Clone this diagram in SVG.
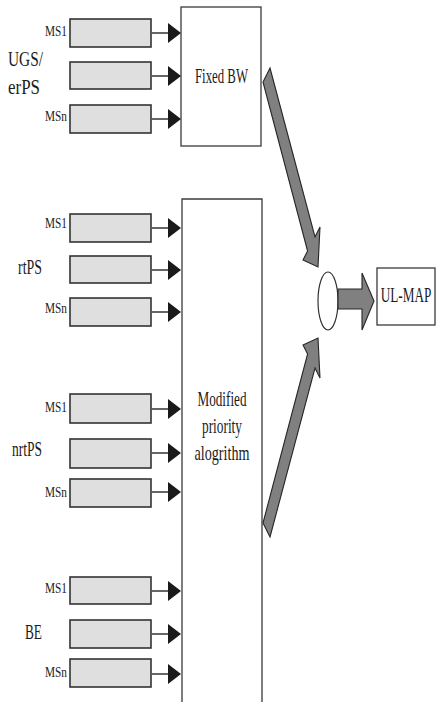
<svg xmlns="http://www.w3.org/2000/svg" width="437" height="702" viewBox="0 0 437 702">
<style>
.q{fill:#dfdfdf;stroke:#333;stroke-width:1.6}
.box{fill:#fff;stroke:#3a3a3a;stroke-width:1.3}
.t{font-family:"Liberation Serif","Times New Roman",serif;fill:#1c1c1c}
.ms{font-size:15px;text-anchor:end}
.cls{font-size:21px}
.big{font-size:22px;text-anchor:middle}
.ln{stroke:#555;stroke-width:1.8}
.ah{fill:#1a1a1a}
.fat{fill:#808080;stroke:#262626;stroke-width:1.1;stroke-linejoin:miter}
</style>
<defs>
<g id="sa"><line class="ln" x1="151" y1="0" x2="169" y2="0"/><polygon class="ah" points="168,-10 181,0 168,10"/></g>
</defs>

<!-- class labels -->
<g id="labels">
<text class="t cls" x="8" y="66" textLength="35" lengthAdjust="spacingAndGlyphs">UGS/</text>
<text class="t cls" x="8" y="94" textLength="32" lengthAdjust="spacingAndGlyphs">erPS</text>
<text class="t cls" x="18" y="274" textLength="24" lengthAdjust="spacingAndGlyphs">rtPS</text>
<text class="t cls" x="12" y="456" textLength="30" lengthAdjust="spacingAndGlyphs">nrtPS</text>
<text class="t cls" x="25" y="639" textLength="17" lengthAdjust="spacingAndGlyphs">BE</text>
</g>

<!-- UGS/erPS queues -->
<g id="q-ugs-1"><rect class="q" x="70" y="19" width="81" height="28"/><text class="t ms" x="67" y="36" textLength="22" lengthAdjust="spacingAndGlyphs">MS1</text></g>
<g id="q-ugs-2"><rect class="q" x="70" y="62" width="81" height="27"/></g>
<g id="q-ugs-n"><rect class="q" x="70" y="105" width="81" height="28"/><text class="t ms" x="67" y="121" textLength="22" lengthAdjust="spacingAndGlyphs">MSn</text></g>

<!-- rtPS queues -->
<g id="q-rt-1"><rect class="q" x="70" y="214" width="81" height="28"/><text class="t ms" x="67" y="228" textLength="22" lengthAdjust="spacingAndGlyphs">MS1</text></g>
<g id="q-rt-2"><rect class="q" x="70" y="256" width="81" height="27"/></g>
<g id="q-rt-n"><rect class="q" x="70" y="298" width="81" height="28"/><text class="t ms" x="67" y="313" textLength="22" lengthAdjust="spacingAndGlyphs">MSn</text></g>

<!-- nrtPS queues -->
<g id="q-nrt-1"><rect class="q" x="70" y="394" width="81" height="29"/><text class="t ms" x="67" y="412" textLength="22" lengthAdjust="spacingAndGlyphs">MS1</text></g>
<g id="q-nrt-2"><rect class="q" x="70" y="439" width="81" height="29"/></g>
<g id="q-nrt-n"><rect class="q" x="70" y="479" width="81" height="28"/><text class="t ms" x="67" y="497" textLength="22" lengthAdjust="spacingAndGlyphs">MSn</text></g>

<!-- BE queues -->
<g id="q-be-1"><rect class="q" x="70" y="577" width="81" height="27"/><text class="t ms" x="67" y="593" textLength="22" lengthAdjust="spacingAndGlyphs">MS1</text></g>
<g id="q-be-2"><rect class="q" x="70" y="620" width="81" height="28"/></g>
<g id="q-be-n"><rect class="q" x="70" y="659" width="81" height="28"/><text class="t ms" x="67" y="677" textLength="22" lengthAdjust="spacingAndGlyphs">MSn</text></g>

<!-- Fixed BW -->
<g id="fixed-bw"><rect class="box" x="181" y="7" width="80" height="139"/><text class="t big" x="221.5" y="83" textLength="53" lengthAdjust="spacingAndGlyphs">Fixed BW</text></g>

<!-- Modified priority algorithm -->
<g id="modified"><path class="box" d="M182,710 V199 H262 V710"/>
<text class="t big" x="222" y="406" textLength="49" lengthAdjust="spacingAndGlyphs">Modified</text>
<text class="t big" x="222" y="433" textLength="40" lengthAdjust="spacingAndGlyphs">priority</text>
<text class="t big" x="222" y="460" textLength="55" lengthAdjust="spacingAndGlyphs">alogrithm</text>
</g>

<!-- combiner -->
<g id="combiner"><ellipse cx="328" cy="301" rx="10" ry="29" fill="#fff" stroke="#333" stroke-width="1.2"/></g>

<!-- UL-MAP -->
<g id="ul-map"><rect class="box" x="377" y="268" width="58" height="57"/><text class="t big" transform="translate(406,302) scale(0.6,1)" x="0" y="0">UL-MAP</text></g>

<!-- connectors -->
<g id="connectors">
<use href="#sa" y="33"/>
<use href="#sa" y="76"/>
<use href="#sa" y="119"/>
<use href="#sa" y="228"/>
<use href="#sa" y="270"/>
<use href="#sa" y="312"/>
<use href="#sa" y="409"/>
<use href="#sa" y="453"/>
<use href="#sa" y="492"/>
<use href="#sa" y="591"/>
<use href="#sa" y="634"/>
<use href="#sa" y="674"/>
<polygon class="fat" points="270,68 315,237 320,227 318,267 303,260 307.6,251 263,82"/>
<polygon class="fat" points="270,537 315,368 320,378 318,338 303,345 307.6,354 263,523"/>
<polygon class="fat" points="338,289 362,289 362,273 374,301 362,330 362,309 338,309"/>
</g>
</svg>
